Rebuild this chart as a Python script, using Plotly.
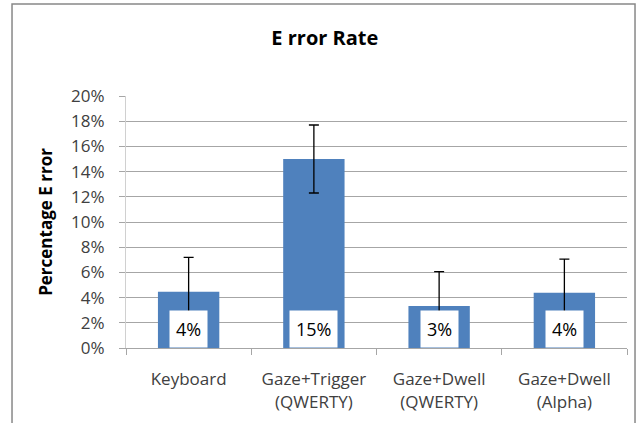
import plotly.graph_objects as go

categories = ["Keyboard", "Gaze+Trigger<br>(QWERTY)", "Gaze+Dwell<br>(QWERTY)", "Gaze+Dwell<br>(Alpha)"]
error_rate = [0.0447, 0.150, 0.0333, 0.0439]
error_sd = [0.0273, 0.0270, 0.0273, 0.0267]
y_ticks = [0, 0.02, 0.04, 0.06, 0.08, 0.10, 0.12, 0.14, 0.16, 0.18, 0.20]

FONT = "Open Sans"
GRID = "#a6a6a6"

fig = go.Figure()
fig.add_trace(go.Bar(
    x=categories,
    y=error_rate,
    marker=dict(color="#4f81bd", line=dict(width=0)),
    width=0.49,
    error_y=dict(type="data", array=error_sd, visible=True,
                 color="black", thickness=1.3, width=5),
    hoverinfo="x+y",
))

for c, v in zip(categories, error_rate):
    fig.add_annotation(
        x=c, y=0, xref="x", yref="y", yanchor="bottom",
        text=f"{round(v * 100):d}%", showarrow=False,
        bgcolor="white", borderpad=6,
        font=dict(family=FONT, size=18, color="black"),
    )

# outer chart-area frame
fig.add_shape(type="rect", xref="paper", yref="paper",
              x0=-0.2275, x1=1.016, y0=-0.5, y1=1.365,
              line=dict(color="#888888", width=1.5), fillcolor="rgba(0,0,0,0)",
              layer="below")

fig.update_layout(
    width=637, height=423,
    margin=dict(l=126, r=10, t=96, b=75),
    paper_bgcolor="white", plot_bgcolor="white",
    showlegend=False,
    title=dict(text="<b>E rror Rate</b>", x=0.51, xref="container", y=0.91, yanchor="middle",
               font=dict(family=FONT, size=20, color="black")),
    font=dict(family=FONT, color="#404040"),
    bargap=0.51,
)
fig.update_xaxes(
    showgrid=False, showline=True, linecolor=GRID, linewidth=1,
    ticks="outside", tickson="boundaries", ticklen=6, tickcolor=GRID,
    tickfont=dict(family=FONT, size=17, color="#404040"),
    ticklabelstandoff=16,
)
fig.update_yaxes(
    range=[0, 0.2], tickvals=y_ticks, tickformat=".0%",
    showgrid=True, gridcolor=GRID, gridwidth=1,
    showline=True, linecolor="#d0d0d0", linewidth=1,
    ticks="outside", ticklen=6, tickcolor=GRID,
    tickfont=dict(family=FONT, size=17, color="#404040"),
    ticklabelstandoff=11,
    zeroline=False,
    title=dict(text="<b>Percentage E rror</b>", standoff=14,
               font=dict(family=FONT, size=17, color="black")),
)

fig.write_html("out.html", config={"displayModeBar": False},
               post_script="document.body.style.margin='0';")
